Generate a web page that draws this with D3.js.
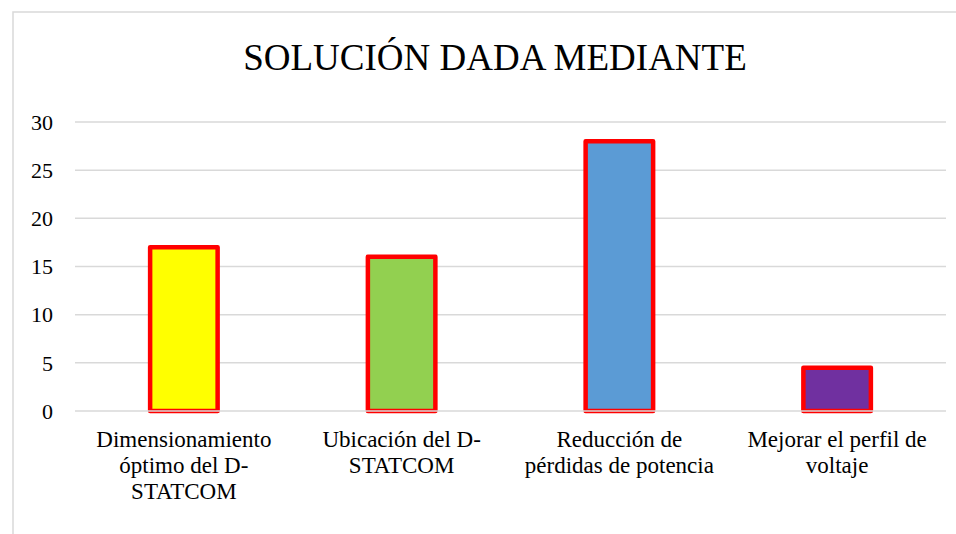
<!DOCTYPE html>
<html>
<head>
<meta charset="utf-8">
<script src="https://d3js.org/d3.v7.min.js"></script>
<style>
  body { margin: 0; background: #fff; }
  svg { display: block; }
  .serif { font-family: "Liberation Serif", "Times New Roman", Times, Tinos, "DejaVu Serif", serif; }
</style>
</head>
<body>
<div id="vis"></div>
<script>
  // chart data
  var categories = ["Dimensionamiento óptimo del D-STATCOM", "Ubicación del D-STATCOM",
                    "Reducción de pérdidas de potencia", "Mejorar el perfil de voltaje"]
  var labelLines = [["Dimensionamiento", "óptimo del D-", "STATCOM"],
                    ["Ubicación del D-", "STATCOM"],
                    ["Reducción de", "pérdidas de potencia"],
                    ["Mejorar el perfil de", "voltaje"]]
  var values = [17, 16, 28, 4.5]
  var barColors = ["#FFFF00", "#92D050", "#5B9BD5", "#7030A0"]
  var yTicks = [0, 5, 10, 15, 20, 25, 30]
  var title = "SOLUCIÓN DADA MEDIANTE"

  var W = 956, H = 534
  var margin = {top: 122, right: 10, bottom: 123, left: 75}
  var width = 946 - margin.left
  var height = 411 - margin.top

  var svg = d3.select("#vis").append("svg")
      .attr("width", W)
      .attr("height", H)

  // chart frame (cut at right and bottom)
  svg.append("rect")
      .attr("x", 13).attr("y", 12)
      .attr("width", W).attr("height", H)
      .attr("fill", "none")
      .attr("stroke", "#d9d9d9")
      .attr("stroke-width", 1.5)

  svg.append("text")
      .attr("class", "serif")
      .attr("x", 495).attr("y", 70)
      .attr("text-anchor", "middle")
      .style("font-size", "37px")
      .attr("fill", "#000")
      .text(title)

  var g = svg.append("g")
      .attr("transform", "translate(" + margin.left + "," + margin.top + ")")

  var x = d3.scaleBand()
      .domain(categories)
      .range([0, width])
      .padding(0)

  var y = d3.scaleLinear()
      .domain([0, 30])
      .range([height, 0])

  // gridlines
  g.selectAll(".grid")
    .data(yTicks.filter(function(d) { return d > 0 }))
    .enter().append("line")
      .attr("x1", 0).attr("x2", width)
      .attr("y1", function(d) { return y(d) })
      .attr("y2", function(d) { return y(d) })
      .attr("stroke", "#d9d9d9")
      .attr("stroke-width", 1.5)

  // y tick labels
  g.selectAll(".ytick")
    .data(yTicks)
    .enter().append("text")
      .attr("class", "serif")
      .attr("x", -22)
      .attr("y", function(d) { return y(d) })
      .attr("dy", "0.35em")
      .attr("text-anchor", "end")
      .style("font-size", "22px")
      .attr("fill", "#000")
      .text(function(d) { return d })

  // bars
  var barW = x.bandwidth() * 0.31
  g.selectAll(".bar")
    .data(values)
    .enter().append("rect")
      .attr("x", function(d, i) { return x(categories[i]) + x.bandwidth() / 2 - barW / 2 })
      .attr("y", function(d) { return y(d) })
      .attr("width", barW)
      .attr("height", function(d) { return height - y(d) })
      .attr("fill", function(d, i) { return barColors[i] })
      .attr("stroke", "#ff0000")
      .attr("stroke-width", 4.5)
      .attr("stroke-linejoin", "round")

  // zero line on top of bars
  g.append("line")
      .attr("x1", 0).attr("x2", width)
      .attr("y1", y(0)).attr("y2", y(0))
      .attr("stroke", "#d9d9d9")
      .attr("stroke-width", 1.5)

  // category labels
  var lab = g.selectAll(".xlab")
    .data(labelLines)
    .enter().append("text")
      .attr("class", "serif")
      .attr("text-anchor", "middle")
      .style("font-size", "23px")
      .attr("fill", "#000")

  lab.selectAll("tspan")
    .data(function(d, i) { return d.map(function(t) { return {t: t, i: i} }) })
    .enter().append("tspan")
      .attr("x", function(d) { return x(categories[d.i]) + x.bandwidth() / 2 })
      .attr("y", function(d, j) { return height + 36 + j * 26 })
      .text(function(d) { return d.t })
</script>
</body>
</html>
